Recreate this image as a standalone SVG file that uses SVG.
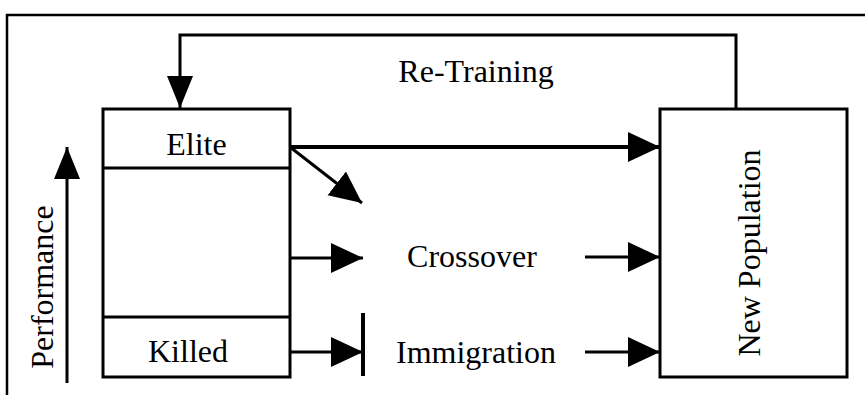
<svg xmlns="http://www.w3.org/2000/svg" width="865" height="395" viewBox="0 0 865 395">
<style>
text{font-family:"Liberation Serif","Times New Roman",serif;font-size:32px;fill:#000}
.box{fill:#fff;stroke:#000;stroke-width:3}
.ln{fill:none;stroke:#000;stroke-width:3}
.thick{stroke-width:4}
</style>
<defs>
<marker id="ah" markerUnits="userSpaceOnUse" markerWidth="34" markerHeight="32" refX="32" refY="15" orient="auto">
<path d="M0,0 L32,15 L0,30 Z" fill="#000"/>
</marker>
<marker id="ah2" markerUnits="userSpaceOnUse" markerWidth="34" markerHeight="28" refX="32" refY="13" orient="auto">
<path d="M0,0 L32,13 L0,26 Z" fill="#000"/>
</marker>
</defs>
<rect width="865" height="395" fill="#fff"/>
<path d="M7,395 L7,15 L865,15" fill="none" stroke="#000" stroke-width="2.5"/>
<g id="left-stack">
<rect class="box" x="103" y="109" width="187" height="268"/>
<line class="ln" x1="103" y1="168" x2="290" y2="168"/>
<line class="ln" x1="103" y1="317" x2="290" y2="317"/>
<text x="196.5" y="155" text-anchor="middle">Elite</text>
<text x="188" y="362" text-anchor="middle">Killed</text>
</g>
<g id="new-population">
<rect class="box" x="660" y="109" width="187" height="268"/>
<text transform="translate(760,253) rotate(-90)" text-anchor="middle">New Population</text>
</g>
<g id="performance">
<text transform="translate(53,287) rotate(-90)" text-anchor="middle">Performance</text>
</g>
<g id="labels">
<text x="476" y="82" text-anchor="middle">Re-Training</text>
<text x="472" y="267" text-anchor="middle">Crossover</text>
<text x="476" y="363" text-anchor="middle">Immigration</text>
</g>
<g id="connectors">
<path class="ln" d="M736,109 L736,35 L180,35 L180,108" marker-end="url(#ah2)"/>
<line class="ln" x1="67" y1="383" x2="67" y2="147" marker-end="url(#ah2)"/>
<line class="ln thick" x1="290" y1="147" x2="660" y2="147" marker-end="url(#ah)"/>
<line class="ln" x1="290" y1="147" x2="362" y2="203" marker-end="url(#ah)"/>
<line class="ln" x1="290" y1="258" x2="363" y2="258" marker-end="url(#ah)"/>
<line class="ln" x1="290" y1="352" x2="363" y2="352" marker-end="url(#ah)"/>
<line class="ln thick" x1="363" y1="313" x2="363" y2="376"/>
<line class="ln" x1="585" y1="257" x2="660" y2="257" marker-end="url(#ah)"/>
<line class="ln" x1="585" y1="352" x2="660" y2="352" marker-end="url(#ah)"/>
</g>
</svg>
